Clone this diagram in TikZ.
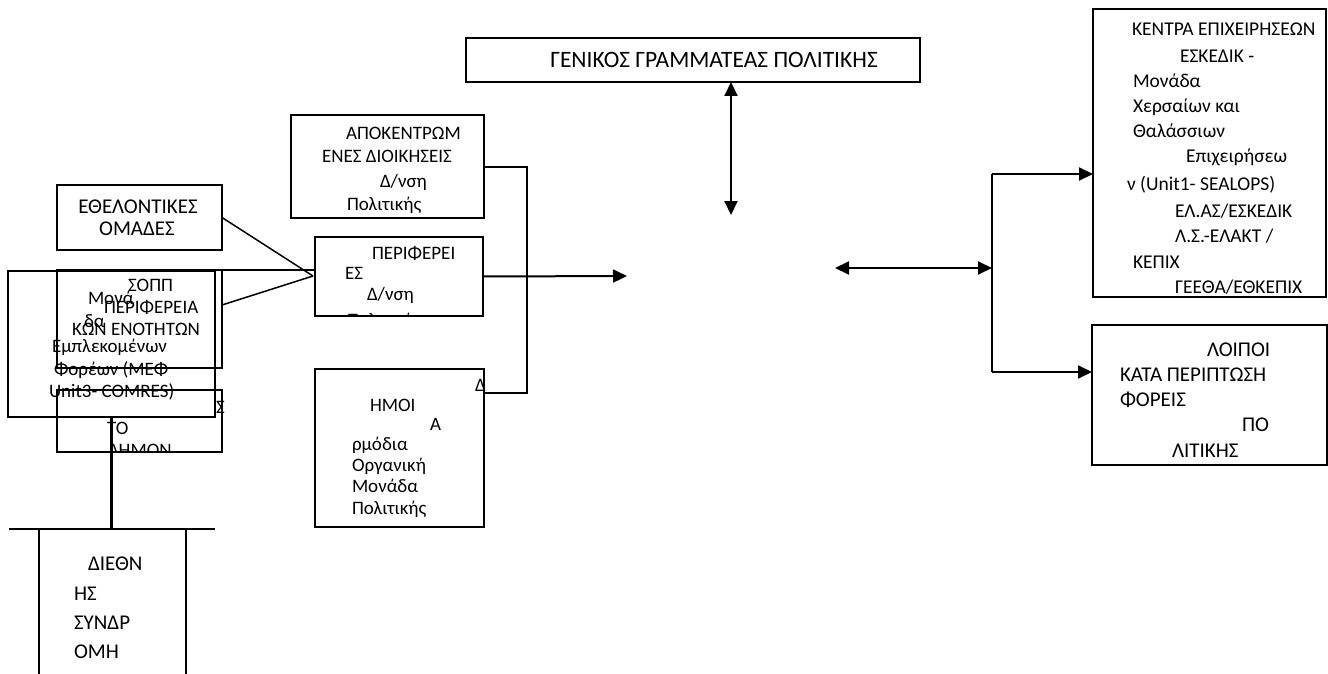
\documentclass[tikz,border=0pt]{standalone}
\usepackage{fontspec}
\setmainfont{Carlito}
\usetikzlibrary{arrows.meta}
\tikzset{
 box/.style={draw, line width=1.5pt, inner sep=0pt, outer sep=0pt, anchor=north west},
 thickbox/.style={box, line width=2.5pt},
 tl/.style={anchor=base west, inner sep=0pt, outer sep=0pt, font=\fontsize{19}{22}\selectfont},
 tc/.style={anchor=base, inner sep=0pt, outer sep=0pt, font=\fontsize{19}{22}\selectfont},
 big/.style={font=\fontsize{21}{24}\selectfont},
 mid/.style={font=\fontsize{19.5}{23}\selectfont},
 conn/.style={line width=2pt},
 heavy/.style={line width=2.5pt},
 arr/.style={conn, -{Triangle[length=14pt,width=13pt]}},
 darr/.style={conn, {Triangle[length=14pt,width=13pt]}-{Triangle[length=14pt,width=13pt]}},
}
\begin{document}
\begin{tikzpicture}[x=1pt,y=-1pt]
\useasboundingbox (0,0) rectangle (1328,674);
% boxes
\node[box, minimum width=454pt, minimum height=44pt] (gen) at (466,38) {};
\node[box, minimum width=193pt, minimum height=103pt] (apo) at (291,115) {};
\node[box, minimum width=168pt, minimum height=79pt] (per) at (315,237) {};
\node[box, minimum width=169pt, minimum height=158pt] (dim) at (315,369) {};
\node[box, minimum width=165pt, minimum height=65pt] (ethel) at (57,185) {};
\node[box, minimum width=165pt, minimum height=98pt] (sopp) at (57,270) {};
\node[box, minimum width=165pt, minimum height=62pt] (sto) at (57,390) {};
\node[thickbox, minimum width=207pt, minimum height=146pt] (mon) at (8,271) {};
\node[box, minimum width=233pt, minimum height=288pt] (kentra) at (1093,9) {};
\node[box, minimum width=235pt, minimum height=140pt] (loipoi) at (1092,325) {};

% texts
\node[tc, font=\fontsize{23.5}{26}\selectfont] (g1) at (714,68) {ΓΕΝΙΚΟΣ ΓΡΑΜΜΑΤΕΑΣ ΠΟΛΙΤΙΚΗΣ};

\node[tl] (a1) at (346,140) {ΑΠΟΚΕΝΤΡΩΜ};
\node[tl] (a2) at (322,163) {ΕΝΕΣ ΔΙΟΙΚΗΣΕΙΣ};
\node[tl] (a3) at (380,187) {Δ/νση};
\node[tl] (a4) at (347,210) {Πολιτικής};

\node[tl] (p1) at (372,259) {ΠΕΡΙΦΕΡΕΙ};
\node[tl] (p2) at (345,279) {ΕΣ};
\node[tl] (p3) at (367,300) {Δ/νση};
\begin{scope}
\clip (per.north west) rectangle (per.south east);
\node[tl] (p4) at (347,326) {Πολιτικής};
\end{scope}

\node[tl] (d1) at (475,391) {Δ};
\node[tl] (d2) at (370,411) {ΗΜΟΙ};
\node[tl] (d3) at (430,430) {Α};
\node[tl] (d4) at (352,450) {ρμόδια};
\node[tl] (d5) at (352,471) {Οργανική};
\node[tl] (d6) at (352,492) {Μονάδα};
\node[tl] (d7) at (352,514) {Πολιτικής};

\node[tc, big] (e1) at (138,213) {ΕΘΕΛΟΝΤΙΚΕΣ};
\node[tc, big] (e2) at (137,235) {ΟΜΑΔΕΣ};

\node[tl] (s1) at (128,291) {ΣΟΠΠ};
\node[tl] (s2) at (104,313) {ΠΕΡΙΦΕΡΕΙΑ};
\node[tl] (s3) at (72,335) {ΚΩΝ ΕΝΟΤΗΤΩΝ};

\node[tl] (m1) at (88,304) {Μονά};
\node[tl] (m2) at (84,327) {δα};
\node[tl] (m3) at (52,352) {Εμπλεκομένων};
\node[tl] (m4) at (54,375) {Φορέων (ΜΕΦ};
\node[tl] (m5) at (49,397) {Unit3- COMRES)};

\node[tl] (o1) at (216,413) {Σ};
\node[tl] (o2) at (107,434) {ΤΟ};
\begin{scope}
\clip (sto.north west) rectangle (sto.south east);
\node[tl] (o3) at (108,456) {ΔΗΜΟΝ};
\end{scope}

\node[tl, big] (i1) at (88,570) {ΔΙΕΘΝ};
\node[tl, big] (i2) at (74,600) {ΗΣ};
\node[tl, big] (i3) at (74,629) {ΣΥΝΔΡ};
\node[tl, big] (i4) at (74,658) {ΟΜΗ};

\node[tl, mid] (k1) at (1132,36) {ΚΕΝΤΡΑ ΕΠΙΧΕΙΡΗΣΕΩΝ};
\node[tl, mid] (k2) at (1180,63) {ΕΣΚΕΔΙΚ -};
\node[tl, mid] (k3) at (1133,88) {Μονάδα};
\node[tl, mid] (k4) at (1133,113) {Χερσαίων και};
\node[tl, mid] (k5) at (1133,138) {Θαλάσσιων};
\node[tl, mid] (k6) at (1186,163) {Επιχειρήσεω};
\node[tl, mid] (k7) at (1127,190) {ν (Unit1- SEALOPS)};
\node[tl, mid] (k8) at (1175,217) {ΕΛ.ΑΣ/ΕΣΚΕΔΙΚ};
\node[tl, mid] (k9) at (1175,242) {Λ.Σ.-ΕΛΑΚΤ /};
\node[tl, mid] (k10) at (1133,268) {ΚΕΠΙΧ};
\node[tl, mid] (k11) at (1175,293) {ΓΕΕΘΑ/ΕΘΚΕΠΙΧ};

\node[tl, big] (l1) at (1207,356) {ΛΟΙΠΟΙ};
\node[tl, big] (l2) at (1120,381) {ΚΑΤΑ ΠΕΡΙΠΤΩΣΗ};
\node[tl, big] (l3) at (1120,406) {ΦΟΡΕΙΣ};
\node[tl, big] (l4) at (1242,431) {ΠΟ};
\node[tl, big] (l5) at (1172,457) {ΛΙΤΙΚΗΣ};

% coordinates
\coordinate (va) at (731,215);
\coordinate (j1) at (527,167);
\coordinate (j2) at (527,393);
\coordinate (pa) at (627,276);
\coordinate (cv) at (313,276);
\coordinate (sc) at (222,305);
\coordinate (rl) at (835,268);
\coordinate (rj) at (992,268);
\coordinate (rt) at (992,174);
\coordinate (rb) at (992,372);
\coordinate (dtop) at (112,529);
\coordinate (dl) at (9,529);
\coordinate (dr) at (215,529);
\coordinate (dbl) at (39,674);
\coordinate (dbr) at (186,674);

% connectors
\draw[darr] (va |- gen.south) -- (va);
\draw[box] (apo.east |- j1) -- (j1) -- (j2) -- (dim.east |- j2);
\draw[arr] (per.east) -- (pa);
\draw[box] (ethel.east) -- (cv);
\draw[box] (sopp.north east) -- (sopp.north east -| per.west);
\draw[box] (sc) -- (cv);
\draw[darr] (rl) -- (rj);
\draw[conn] (rt) -- (rb);
\draw[arr] (rt) -- (rt -| kentra.west);
\draw[arr] (rb) -- (rb -| loipoi.west);
\draw[heavy] (mon.south) -- (mon.south |- dtop);
\draw[heavy] (dl) -- (dr);
\draw[box] (dbl |- dtop) -- (dbl);
\draw[box] (dbr |- dtop) -- (dbr);
\end{tikzpicture}
\end{document}
